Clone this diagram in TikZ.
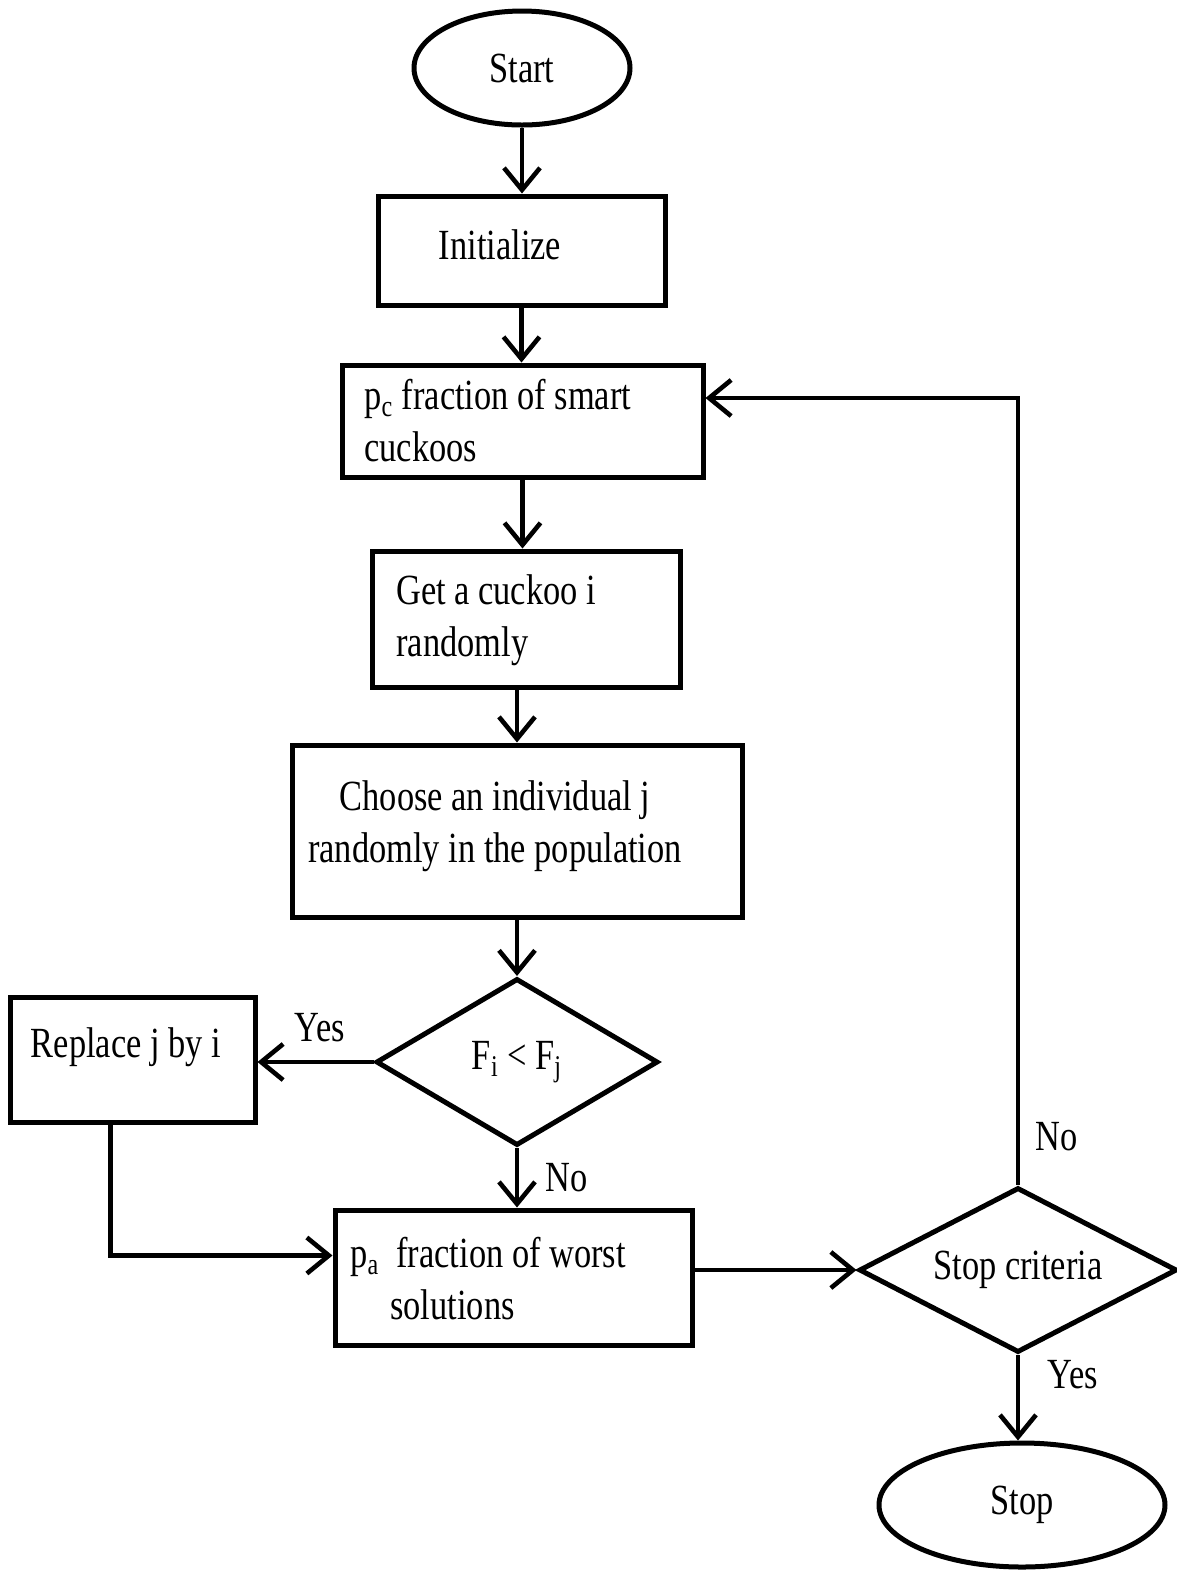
\documentclass[tikz,border=0pt]{standalone}
\usepackage{fontspec}
\setmainfont{Liberation Serif}[FakeStretch=0.8]
\usetikzlibrary{arrows.meta,shapes.geometric}

\begin{document}
\begin{tikzpicture}[x=0.5pt,y=-0.5pt,
  every node/.style={font=\fontsize{21.5}{26}\selectfont, inner sep=0pt},
  outline/.style={draw, line width=2.5pt},
  stepbox/.style={outline, rectangle},
  terminal/.style={outline, ellipse},
  decision/.style={outline, diamond, aspect=1.9},
  txt/.style={align=left, anchor=west},
  flow/.style={line width=2.3pt, -{Straight Barb[length=11pt,width=18pt]}}]

\useasboundingbox (0,0) rectangle (1177,1571);
\fill[white] (0,0) rectangle (1177,1571);

% shapes
\node[terminal, minimum width=108pt, minimum height=57pt] (start) at (522,68) {Start};
\node[stepbox, minimum width=143.5pt, minimum height=54.5pt] (init) at (521.5,250.5) {};
\node[stepbox, minimum width=180.5pt, minimum height=56pt] (pc) at (522.5,421) {};
\node[stepbox, minimum width=154pt, minimum height=68pt] (get) at (526,619) {};
\node[stepbox, minimum width=225pt, minimum height=86pt] (choose) at (517,831) {};
\node[decision, minimum width=141pt, minimum height=83.5pt] (cmp) at (517,1062) {F\textsubscript{i} < F\textsubscript{j}};
\node[stepbox, minimum width=122.5pt, minimum height=62.5pt] (replace) at (132.5,1059.5) {};
\node[stepbox, minimum width=178.5pt, minimum height=67.5pt] (pa) at (513.5,1277.5) {};
\node[decision, minimum width=159pt, minimum height=82.5pt] (crit) at (1018,1270) {Stop criteria};
\node[terminal, minimum width=143pt, minimum height=62pt] (stop) at (1022,1505) {Stop};

% box texts
\node (initT) at (500,245) {Initialize};
\node[txt] (pcT) at (364,421) {p\textsubscript{c} fraction of smart\\cuckoos};
\node[txt] (getT) at (396,620) {Get a cuckoo i\\randomly};
\node[align=center] (chooseT) at (495,826) {Choose an individual j\\randomly in the population};
\node (replaceT) at (126,1047) {Replace j by i};
\node[txt] (paT) at (350,1279) {p\textsubscript{a}\ \ fraction of worst\\\hspace{20pt}solutions};

% connectors
\draw[flow] (start.south) -- (start.south |- init.north);
\draw[flow] (init.south) -- (init.south |- pc.north);
\draw[flow] (pc.south) -- (pc.south |- get.north);
\draw[flow] (choose.north |- get.south) -- (choose.north);
\draw[flow] (choose.south) -- (cmp.north);
\draw[flow] (cmp.west) -- (cmp.west -| replace.east);
\draw[flow] (cmp.south) -- (cmp.south |- pa.north);
\draw[flow] ([xshift=-11pt]replace.south) |- ([yshift=11pt]pa.west);
\draw[flow] (crit.west -| pa.east) -- (crit.west);
\draw[flow] (crit.north) |- ([yshift=11.5pt]pc.east);
\draw[flow] (crit.south) -- (crit.south |- stop.north);

% branch labels
\node (yes1) at (320,1028) {Yes};
\node (no1) at (567,1178) {No};
\node (no2) at (1057,1137) {No};
\node (yes2) at (1073,1375) {Yes};
\end{tikzpicture}
\end{document}
